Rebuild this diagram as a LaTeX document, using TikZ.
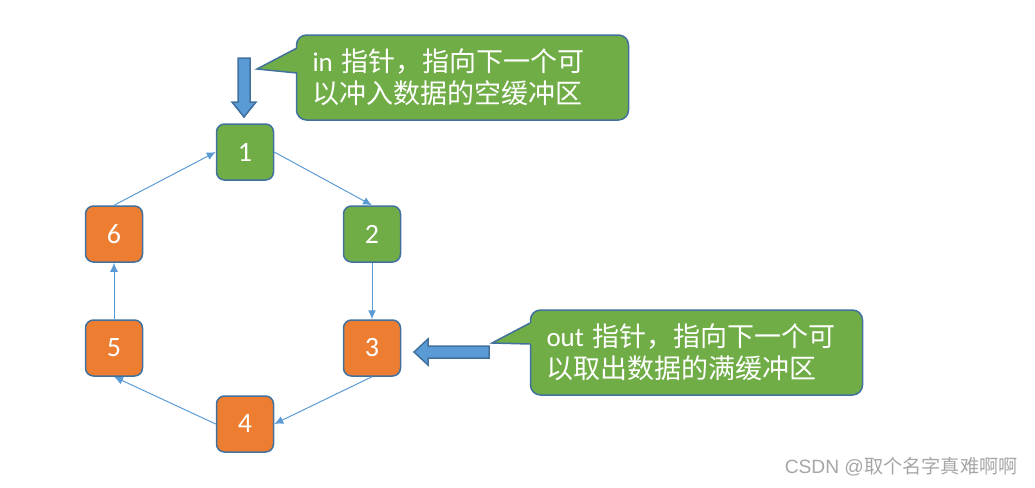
\documentclass[tikz,border=0pt]{standalone}
\usepackage{fontspec}
\setmainfont{Carlito}
\newfontfamily\cjk{Noto Sans CJK SC}
\newfontfamily\marksans{Liberation Sans}
\usetikzlibrary{arrows.meta}
\definecolor{bufgreen}{HTML}{70AD47}
\definecolor{buforange}{HTML}{ED7D31}
\definecolor{rimblue}{HTML}{41719C}
\definecolor{linkblue}{HTML}{5B9BD5}
\tikzset{
  slot/.style={draw=rimblue, line width=0.75pt, rounded corners=4pt,
    minimum width=28.5pt, minimum height=28pt, inner sep=0pt,
    text=white, font=\fontsize{14}{16}\selectfont},
  emptybuf/.style={slot, fill=bufgreen},
  fullbuf/.style={slot, fill=buforange},
  link/.style={linkblue, line width=0.5pt, -{Latex[length=4.5pt,width=4pt]}},
  callout/.style={draw=rimblue, fill=bufgreen, line width=0.75pt, rounded corners=5pt,
    minimum height=42.5pt, inner xsep=8pt, inner ysep=0pt, text width=150pt,
    align=left, text=white, font=\fontsize{13.5}{16}\selectfont},
  wedge/.style={draw=rimblue, line width=0.75pt},
  pointer/.style={draw=rimblue, fill=linkblue, line width=0.75pt}
}
\begin{document}
\begin{tikzpicture}[x=0.5pt, y=-0.5pt]
  \useasboundingbox (0,0) rectangle (1035,488);
  % the ring of buffers
  \node[emptybuf] (b1) at (245,152) {1};
  \node[emptybuf] (b2) at (372,234) {2};
  \node[fullbuf]  (b3) at (372,348) {3};
  \node[fullbuf]  (b4) at (245,424) {4};
  \node[fullbuf]  (b5) at (114,348) {5};
  \node[fullbuf]  (b6) at (114,234) {6};
  \draw[link] (b1.east) -- (b2.north);
  \draw[link] (b2.south) -- (b3.north);
  \draw[link] (b3.south) -- (b4.east);
  \draw[link] (b4.west) -- (b5.south);
  \draw[link] (b5.north) -- (b6.south);
  \draw[link] (b6.north) -- (b1.west);
  % block arrows for the two pointers
  \filldraw[pointer] (238,58) -- (250,58) -- (250,102) -- (256,102)
    -- (244,117) -- (232,102) -- (238,102) -- cycle;
  \filldraw[pointer] (489,346) -- (489,358) -- (428,358) -- (428,365)
    -- (414,352) -- (428,339) -- (428,346) -- cycle;
  % callouts
  \node[callout] (incall) at (462.5,77.5)
    {in {\cjk 指针，指向下一个可\\以冲入数据的空缓冲区}};
  \node[callout] (outcall) at (696.5,352.5)
    {out {\cjk 指针，指向下一个可\\以取出数据的满缓冲区}};
  \coordinate (intip) at (257,69);
  \coordinate (outtip) at (492,343);
  \fill[bufgreen] (intip) -- (297,48) -- (302,48) -- (302,73) -- (297,73) -- cycle;
  \draw[wedge] (297,48) -- (intip) -- (297,73);
  \fill[bufgreen] (outtip) -- (530,323) -- (535,323) -- (535,344) -- (530,344) -- cycle;
  \draw[wedge] (530,323) -- (outtip) -- (530,344);
  % watermark
  \node[anchor=east, inner sep=0pt, text=gray!70, font=\marksans\fontsize{9.6}{10}\selectfont]
    (mark) at (1018,467) {CSDN @{\cjk 取个名字真难啊啊}};
\end{tikzpicture}
\end{document}
